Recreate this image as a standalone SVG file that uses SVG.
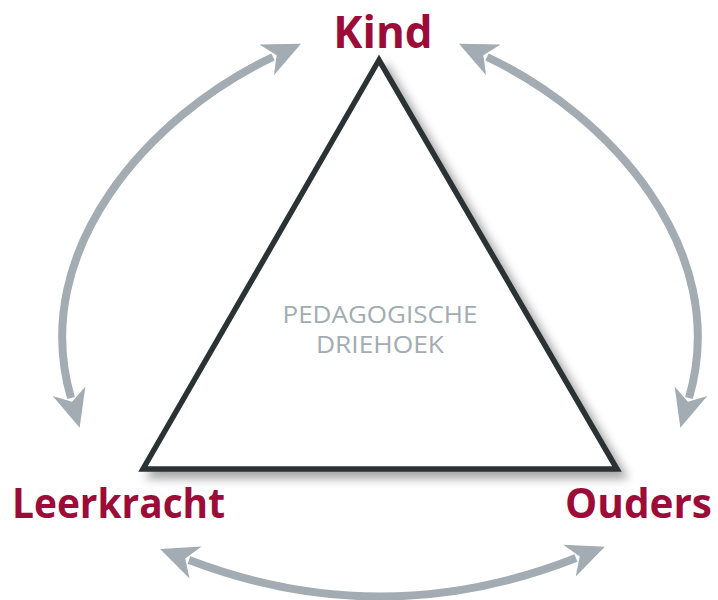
<svg xmlns="http://www.w3.org/2000/svg" width="718" height="600" viewBox="0 0 718 600">
  <style>
    .lbl { font-family: "Open Sans", "Noto Sans", sans-serif; font-weight: 700; fill: #9b0d38; }
    .mid { font-family: "Open Sans", "Noto Sans", sans-serif; font-size: 24px; fill: #a3acb2; text-anchor: middle; }
    .arc { fill: none; stroke: #a3acb2; stroke-width: 8; }
  </style>
  <defs>
    <marker id="ah" markerUnits="userSpaceOnUse" markerWidth="50" markerHeight="44" viewBox="-5 -22 50 44" refX="7" refY="0" orient="auto-start-reverse">
      <path d="M38,0 L0,-17 L11,0 L0,17 Z" fill="#a3acb2"/>
    </marker>
    <filter id="sh" x="-10%" y="-10%" width="130%" height="130%">
      <feDropShadow dx="7" dy="7" stdDeviation="5" flood-color="#000" flood-opacity="0.35"/>
    </filter>
  </defs>
  <rect width="718" height="600" fill="#fff"/>
  <g id="connectors">
    <path class="arc" d="M273 57 C150 115, 28 250, 71 398" marker-start="url(#ah)" marker-end="url(#ah)"/>
    <path class="arc" d="M487 57 C610 115, 732 250, 689 398" marker-start="url(#ah)" marker-end="url(#ah)"/>
    <path class="arc" d="M189 560 Q383 634 576 558" marker-start="url(#ah)" marker-end="url(#ah)"/>
  </g>
  <g id="triangle">
    <polygon points="379,60 143,469 617,469" fill="#fff" stroke="#2b3335" stroke-width="5.5" stroke-linejoin="miter" filter="url(#sh)"/>
    <text class="mid" x="380" y="323" textLength="195" lengthAdjust="spacingAndGlyphs">PEDAGOGISCHE</text>
    <text class="mid" x="380" y="353" textLength="128" lengthAdjust="spacingAndGlyphs">DRIEHOEK</text>
  </g>
  <g id="kind">
    <text class="lbl" x="383" y="48" font-size="44" text-anchor="middle">Kind</text>
  </g>
  <g id="leerkracht">
    <text class="lbl" x="12" y="518" font-size="42" textLength="213" lengthAdjust="spacingAndGlyphs">Leerkracht</text>
  </g>
  <g id="ouders">
    <text class="lbl" x="565" y="518" font-size="42" textLength="147" lengthAdjust="spacingAndGlyphs">Ouders</text>
  </g>
</svg>
